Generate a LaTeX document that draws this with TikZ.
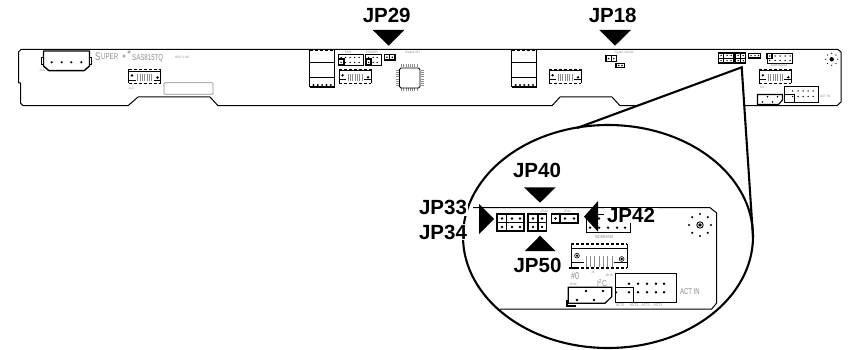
\documentclass[tikz,border=0pt]{standalone}
\usepackage{fontspec}
\usepackage{graphicx}
\setmainfont{Liberation Sans}
\definecolor{faint}{gray}{0.55}
\tikzset{
  pinlabel/.style={font=\fontsize{20.5}{21}\selectfont\bfseries,inner sep=1pt,text=black},
  tiny/.style={font=\fontsize{3.2}{3.2}\selectfont,text=faint,inner sep=0pt},
  small/.style={font=\fontsize{8.5}{8.5}\selectfont,text=faint,inner sep=0pt},
  edge/.style={draw=black,line width=1pt},
  pointer/.style={fill=black,draw=none},
  lens/.style={draw=black,line width=2.1pt,fill=white},
  part/.style={draw=black,line width=0.85pt,fill=white},
  heavy/.style={draw=black,line width=1.4pt,fill=white}
}
% fan-type block: #1 x, #2 y, #3 scale
\newcommand{\fanblock}[3]{%
\begin{scope}[shift={(#1,#2)},scale=#3]
  \draw[draw=black,line width=0.8pt,densely dashed] (0,0) -- (32,0) (0,14) -- (32,14);
  \draw[draw=black,line width=0.6pt] (0,1.5) -- (32,1.5) (0,0) -- (0,14) (32,0) -- (32,14);
  \foreach \k in {0,...,6}{\draw[draw=faint,line width=0.35pt] (9+\k*2.3,5) -- (9+\k*2.3,12);}
  \fill[black] (3.5,6) circle (1.3) (29,8) circle (1.3);
  \draw[draw=black,line width=0.8pt] (0,10.5) -- (7,10.5) (25,10.5) -- (32,10.5);
\end{scope}}
% power block
\newcommand{\powerblock}[2]{%
\begin{scope}[shift={(#1,#2)}]
  \draw[draw=black,line width=0.8pt,densely dashed] (0,0) -- (25,0);
  \draw[draw=black,line width=0.7pt] (0,0) -- (0,37) (25,0) -- (25,37) (0,12.3) -- (25,12.3) (0,27) -- (25,27);
  \draw[draw=black,line width=1.3pt] (0,37) -- (25,37);
  \foreach \k in {0,...,4}{\fill[black] (4+\k*4.3,35) circle (1.1);}
\end{scope}}
\newcommand{\ring}[3]{%
  \foreach \a in {0,45,...,315}{\fill[black] (#1,#2) ++(\a:#3) circle (#3*0.11);}
}
\begin{document}
\begin{tikzpicture}[x=1pt,y=-1pt]
\useasboundingbox (0,0) rectangle (848,350);
% ---- main board outline
\draw[edge,line join=round]
  (838,49.5) -- (21,49.5) -- (18.5,52) -- (18.5,83) -- (20.5,83) -- (20.5,103) -- (23,105.7)
  -- (128,105.7) -- (138,97) -- (210,97) -- (218,105.7) -- (552,105.7) -- (560,97)
  -- (612,97) -- (620,105.7) -- (837,105.7) -- (841,102) -- (841,52) -- cycle;
% left side parts
\draw[heavy,line join=round] (43.5,51) -- (89.5,51) -- (89.5,66) -- (84,70.7) -- (49,70.7) -- (43.5,66) -- cycle;
\draw[part] (41.5,57) rectangle (43.5,64) (89.5,57) rectangle (91.5,64);
\foreach \x in {51.7,61.7,71.3,81.3}{\fill[black] (\x,62.3) circle (1.2);}
\node[tiny] (lblj) at (42,70) {J16};
\node[small,font=\fontsize{11}{11}\selectfont,anchor=west] (supers) at (95,56.5) {\scalebox{.72}[1]{S}};
\node[small,anchor=west] (super) at (101,57) {\scalebox{.72}[1]{UPER}};
\draw[draw=faint,line width=0.6pt] (124,56) circle (1.3) (129,52) circle (1.3);
\node[small,anchor=west] (model) at (132,58) {\scalebox{.72}[1]{SAS815TQ}};
\node[tiny,anchor=west] (rev) at (175,57.5) {REV 1.00};
\fanblock{128.5}{69.5}{1}
\node[tiny] (lblj2) at (131,88) {J12};
\draw[draw=faint,line width=0.7pt,rounded corners=1pt] (164,82.7) rectangle (213,94.3);
% middle parts
\powerblock{309.5}{50}
\powerblock{511.7}{50}
\draw[part] (338.3,54.3) rectangle (363.3,65.7);
\draw[part] (365.7,54.3) rectangle (381.7,65.7);
\draw[heavy,fill=none] (338.5,59) rectangle (344,65);
\draw[heavy,fill=none] (366,59) rectangle (371,65);
\foreach \x in {341,345.5,350,354.5,359}{\fill[black] (\x,57.5) circle (0.75) (\x,62.5) circle (0.75);}
\foreach \x in {368.5,373,377}{\fill[black] (\x,57.5) circle (0.75) (\x,62.5) circle (0.75);}
\draw[heavy] (384.5,54.5) rectangle (394.8,60);
\draw[draw=black,line width=0.8pt] (389.6,54.5) -- (389.6,60);
\fill[black] (387,57.3) circle (0.9) (392.3,57.3) circle (0.9);
\node[tiny] (lblfan) at (348,52) {FAN};
\node[tiny] (lblpw) at (372,52) {POWER};
\node[tiny] (lbltxt) at (413,52) {Board INT};
\fanblock{339}{69.3}{1}
\fanblock{549}{69.3}{1}
% chip
\foreach \k in {0,...,7}{
  \draw[draw=faint,line width=0.5pt] (401.5+\k*2.2,64.5) -- (401.5+\k*2.2,67.5) (401.5+\k*2.2,88.5) -- (401.5+\k*2.2,91.5);
  \draw[draw=faint,line width=0.5pt] (396,70+\k*2.2) -- (399,70+\k*2.2) (420.5,70+\k*2.2) -- (423.5,70+\k*2.2);
}
\draw[draw=black,line width=0.95pt,rounded corners=1.5pt] (399.5,68) rectangle (420,88);
% JP18 parts
\draw[heavy] (606,55.8) rectangle (616.5,61.5);
\draw[draw=black,line width=0.8pt] (611.2,55.8) -- (611.2,61.5);
\fill[black] (608.6,58.6) circle (0.9) (613.8,58.6) circle (0.9);
\draw[heavy] (616,63.5) rectangle (624.5,67.5);
\fill[black] (618.7,65.5) circle (0.8) (622,65.5) circle (0.8);
\node[tiny] (lblpv) at (624,52.5) {Power VALID};
% right side parts of the small board
\draw[heavy] (718.5,53) rectangle (734,63.2);
\draw[draw=black,line width=0.9pt] (718.5,58) -- (734,58) (723.5,53) -- (723.5,63.2);
\foreach \x in {721,727,731}{\fill[black] (\x,55.5) circle (0.75) (\x,60.7) circle (0.75);}
\draw[heavy] (735.7,53) rectangle (745.7,63.2);
\draw[draw=black,line width=0.9pt] (735.7,58) -- (745.7,58) (740.7,53) -- (740.7,63.2);
\foreach \x in {738.2,743.2}{\fill[black] (\x,55.5) circle (0.75) (\x,60.7) circle (0.75);}
\draw[heavy] (748.5,53.3) rectangle (760.5,58);
\foreach \x in {751,755,758.5}{\fill[black] (\x,55.7) circle (0.75);}
\draw[part] (767,53.5) rectangle (792.7,63);
\draw[heavy,fill=none] (767,53.5) rectangle (772,58.5);
\foreach \x in {769.5,775,780,785,790}{\fill[black] (\x,56) circle (0.75) (\x,60.5) circle (0.75);}
\node[tiny] (lblsb) at (779,65.5) {SIDEBAND};
\fill[black] (831.7,59.3) circle (2.2);
\ring{831.7}{59.3}{6}
\fanblock{759.3}{69.3}{1}
\node[tiny] (lbl0) at (762,87) {\#0};
\draw[part,line width=1.1pt] (757.5,94.5) -- (782.5,94.5) -- (782.5,100) -- (778.5,104.5) -- (757.5,104.5) -- cycle;
\fill[black] (767.5,96.8) circle (0.85) (777.5,96.8) circle (0.85) (762.5,102) circle (0.85) (772.5,102) circle (0.85);
\draw[part,line width=1pt] (784.5,86.7) rectangle (818.3,102.3);
\draw[draw=black,line width=1pt] (784.5,94.3) -- (794.7,94.3) -- (794.7,102.3);
\foreach \x in {792.5,798,803,808,813}{\fill[black] (\x,91) circle (0.75) (\x,96.5) circle (0.75);}
\node[tiny] (lblai) at (825,96) {ACT IN};
% ---- cone and lens
\path[fill=white] (577,128) -- (741.7,67.3) -- (753,236.5) -- cycle;
\draw[lens] (608,236.5) ellipse [x radius=145,y radius=111.5];
\draw[draw=black,line width=2.1pt,line join=miter] (577,128) -- (741.7,67.3) -- (753,236.5);
% ---- lens contents
\draw[edge,line width=1pt] (473,207.7) -- (710,207.7) -- (716.7,213) -- (716.7,303) -- (711.7,309) -- (500,309);
\draw[part,line width=1.2pt] (497,214) rectangle (524,231);
\draw[draw=black,line width=1.2pt] (497,222.7) -- (524,222.7) (506.7,214) -- (506.7,231);
\foreach \x in {502,512,520}{\fill[black] (\x,218.5) circle (1.3) (\x,227) circle (1.3);}
\draw[part,line width=1.2pt] (528,214) rectangle (546.7,231);
\draw[draw=black,line width=1.2pt] (528,222.7) -- (546.7,222.7) (538,214) -- (538,231);
\foreach \x in {533,542}{\fill[black] (\x,218.5) circle (1.3) (\x,227) circle (1.3);}
\draw[part,line width=1.2pt] (551.7,214) rectangle (578,223);
\draw[draw=black,line width=1.2pt] (560,214) -- (560,223);
\foreach \x in {555.5,565,574}{\fill[black] (\x,218.5) circle (1.3);}
\node[tiny] (t40) at (544,211) {JP40};
\node[tiny] (t41) at (567,211) {JP41};
\draw[part] (586,214) rectangle (630,232.7);
\foreach \x in {590,599,608,617,625}{\fill[black] (\x,218.5) circle (1.3) (\x,227.7) circle (1.3);}
\node[tiny,font=\fontsize{4.5}{5}\selectfont] (tsb) at (604,237) {\scalebox{.8}[1]{SIDEBAND}};
% lens fan block
\begin{scope}[shift={(571,244)}]
  \draw[draw=black,line width=1.1pt,densely dashed] (0,0) -- (56.3,0) (0,24) -- (56.3,24);
  \draw[draw=black,line width=0.8pt] (0,0) -- (0,24) (56.3,0) -- (56.3,24) (0,4.5) -- (56.3,4.5);
  \foreach \k in {0,...,6}{\draw[draw=faint,line width=0.5pt] (15+\k*4.3,12) -- (15+\k*4.3,23);}
  \draw[draw=black,line width=0.6pt] (6,11.7) circle (2.4) (50.7,15) circle (2.4);
  \fill[black] (6,11.7) circle (1.3) (50.7,15) circle (1.3);
  \draw[draw=black,line width=0.9pt] (0,18.7) -- (13,18.7) (43,18.7) -- (56.3,18.7);
\end{scope}
\draw[draw=black,line width=1.1pt] (569,268) -- (578,268);
\node[small,font=\fontsize{10}{10}\selectfont] (t0) at (575,276) {\scalebox{.72}[1]{\#0}};
\node[tiny] (tj5) at (593,272.5) {J5};
\node[tiny] (tj36) at (609,275) {JP36};
\node[tiny] (tj44) at (573,284) {JP44};
\node[small,font=\fontsize{8.5}{9}\selectfont] (ti2c) at (602,283) {\scalebox{.8}[1]{I\textsuperscript{2}C}};
\draw[part,line width=1.2pt] (568.3,287.3) -- (611.7,287.3) -- (611.7,296.7) -- (605,303.3) -- (568.3,303.3) -- cycle;
\fill[black] (586,291) circle (1.4) (603,291) circle (1.4) (577,300) circle (1.4) (594,300) circle (1.4);
\draw[draw=black,line width=1.2pt] (567,300) -- (567,306) -- (576,306);
\draw[part,line width=1.2pt] (615.7,273.3) rectangle (676.7,302.3);
\draw[draw=black,line width=1.2pt] (615.7,287.7) -- (633.3,287.7) -- (633.3,302.3);
\foreach \x in {629,638,647,656,664}{\fill[black] (\x,283.7) circle (1.4) (\x,292.3) circle (1.4);}
\fill[black] (616,292.3) circle (1.2);
\node[small,font=\fontsize{8.5}{9}\selectfont,anchor=west] (tact) at (680,292) {\scalebox{.7}[1]{ACT IN}};
\foreach \x/\t/\n in {620/ACT0/a0,634/ACT1/a1,645.7/ACT2/a2,658/ACT3/a3}{
  \node[tiny,font=\fontsize{4.2}{4.2}\selectfont] (\n) at (\x,305.3) {\scalebox{.75}[1]{\t}};
}
\draw[draw=black,line width=0.9pt] (700,225) circle (3.2);
\fill[black] (700,225) circle (1.8);
\ring{700}{225}{11}
% ---- labels and pointers
\node[pinlabel] (jp29) at (386.7,15) {JP29};
\node[pinlabel] (jp18) at (612.7,15) {JP18};
\node[pinlabel] (jp40) at (537,170.5) {JP40};
\node[pinlabel,fill=white] (jp33) at (443,207.5) {JP33};
\node[pinlabel,fill=white] (jp34) at (443,232) {JP34};
\node[pinlabel,fill=white] (jp50) at (537.5,265) {JP50};
\node[pinlabel,fill=white,inner xsep=3pt,inner ysep=0.5pt] (jp42) at (631,215.5) {JP42};
\fill[pointer] (372.7,30) -- (404.3,30) -- (388.7,45.7) -- cycle;
\fill[pointer] (599.3,30) -- (631,30) -- (615,45.7) -- cycle;
\fill[pointer] (524,187.3) -- (555.7,187.3) -- (540,202.7) -- cycle;
\fill[pointer] (525,251) -- (555.5,251) -- (540,235.7) -- cycle;
\fill[pointer] (479,204) -- (479,234) -- (494,219) -- cycle;
\fill[pointer] (598,201) -- (598,231.7) -- (584,216.7) -- cycle;
\end{tikzpicture}
\end{document}
